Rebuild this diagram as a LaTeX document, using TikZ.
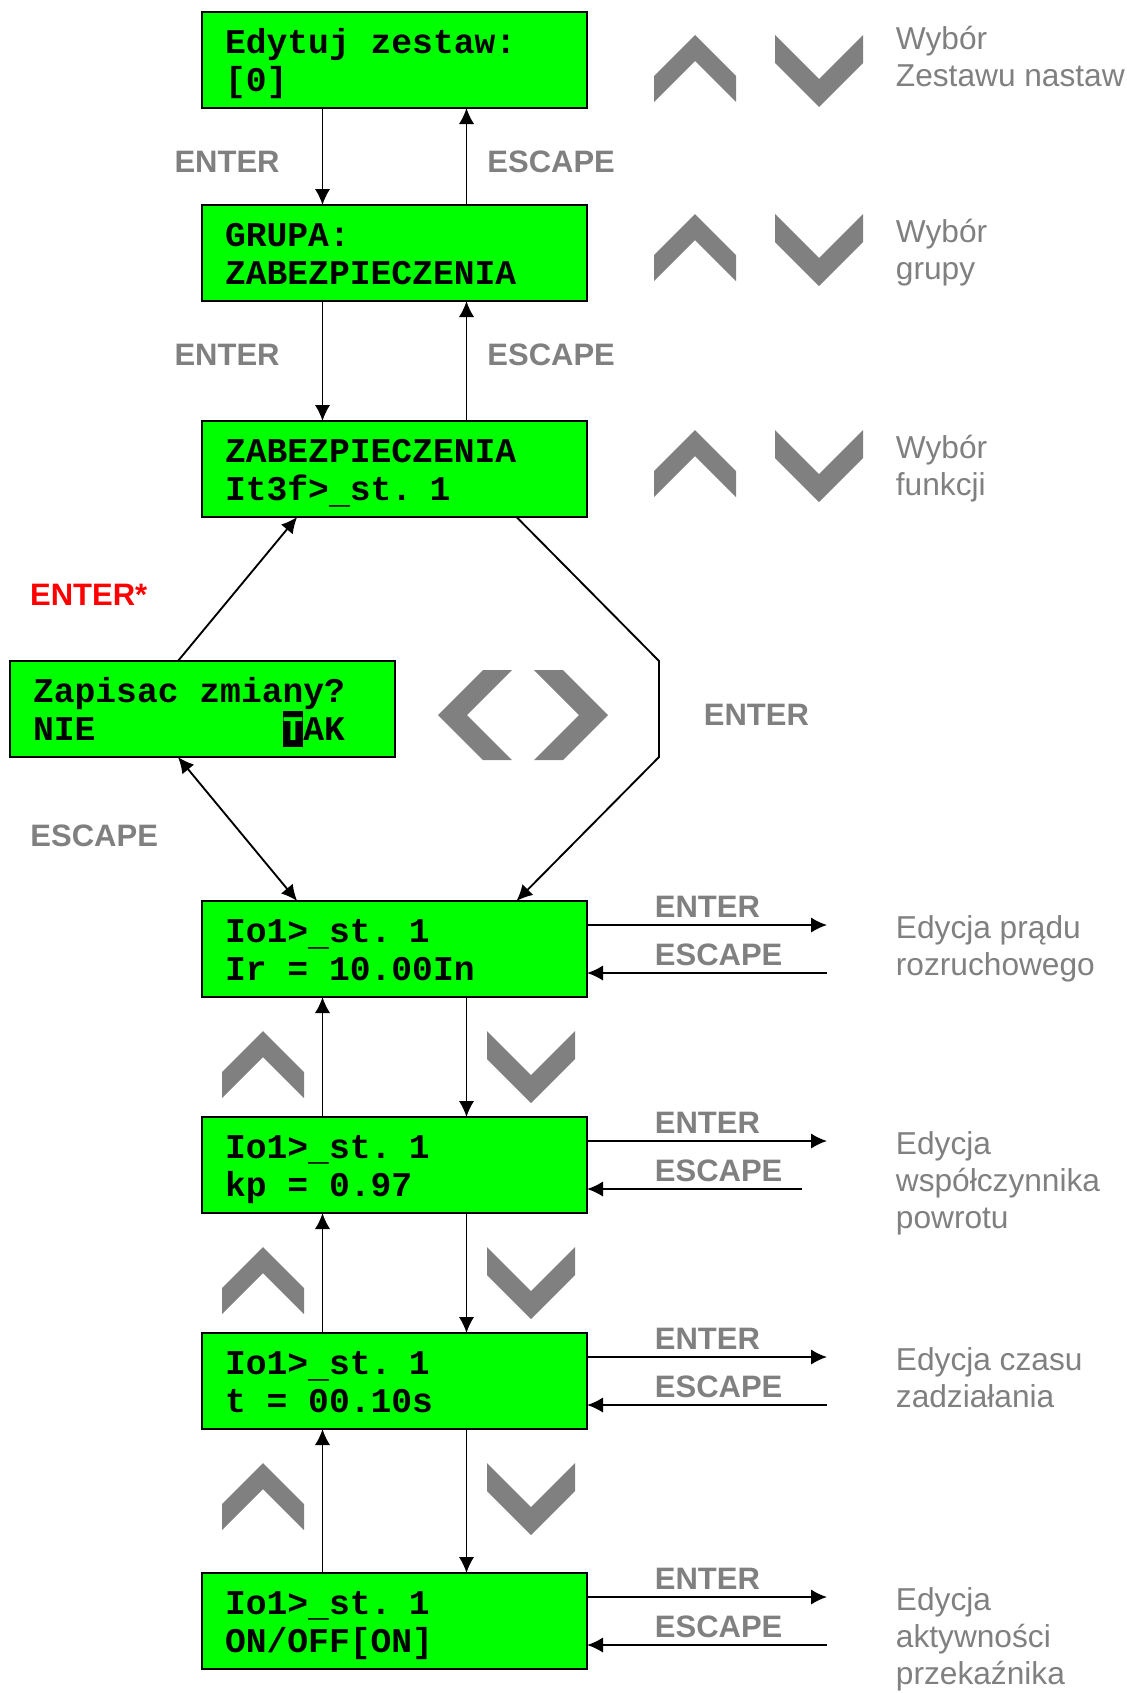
\documentclass[tikz,border=0pt]{standalone}
\usepackage{fontspec}
\setmainfont{Liberation Sans}
\newfontfamily\lcdfont{Liberation Mono}
\usetikzlibrary{arrows.meta,positioning,calc}

\definecolor{lcd}{RGB}{0,255,0}
\definecolor{hint}{RGB}{128,128,128}

\newcommand{\lcdstrut}{\rule[-5pt]{0pt}{28.5pt}}
\newcommand{\lcd}[2]{\spaceskip=0.6em\relax\lcdstrut#1\\\lcdstrut#2}
\newcommand{\lcdcur}[1]{\makebox[0pt][l]{\rule[-0.2em]{0.6em}{1.04em}}\textcolor{lcd}{#1}}
\newcommand{\lcdus}{\raisebox{-0.08em}{\_}}

\tikzset{
  lcdbox/.style={draw,line width=1.6pt,fill=lcd,anchor=north west,outer sep=0pt,
    minimum width=288.75pt,minimum height=72pt,text width=254.25pt,
    inner xsep=17.25pt,inner ysep=0pt,align=left,
    font={\lcdfont\bfseries\fontsize{26}{28.5}\selectfont\lineskiplimit=-20pt}},
  key/.style={font=\bfseries\fontsize{23.25}{28}\selectfont,text=hint,inner sep=0pt},
  hinttext/.style={font=\fontsize{23.75}{27.75}\selectfont,text=hint,inner sep=0pt,
    align=left,anchor=north west,yshift=20pt,execute at begin node={\rule{0pt}{20pt}}},
  chevup/.pic={\fill[hint] (0,-33) -- (41,8) -- (41,34) -- (0,-7) -- (-41,34) -- (-41,8) -- cycle;},
  chevdown/.pic={\fill[hint] (0,36) -- (44,-8) -- (44,-36) -- (0,8) -- (-44,-36) -- (-44,-8) -- cycle;},
  chevleft/.pic={\fill[hint] (-37,0) -- (8,-45) -- (37,-45) -- (-8,0) -- (37,45) -- (8,45) -- cycle;},
  chevright/.pic={\fill[hint] (37,0) -- (-8,-45) -- (-37,-45) -- (8,0) -- (-37,45) -- (-8,45) -- cycle;}
}

\begin{document}
\begin{tikzpicture}[x=0.75pt,y=-0.75pt,>={Latex[length=12pt,width=11.5pt]},line width=1.4pt]
\useasboundingbox (0,0) rectangle (1127,1693);

% screens
\node[lcdbox] (edit) at (202,12) {\lcd{Edytuj zestaw:}{[0]}};
\node[lcdbox] (grp) at (202,205) {\lcd{GRUPA:}{ZABEZPIECZENIA}};
\node[lcdbox] (func) at (202,421) {\lcd{ZABEZPIECZENIA}{It3f>\lcdus st. 1}};
\node[lcdbox] (save) at (10,661) {\lcd{Zapisac zmiany?}{NIE~~~~~~~~~\lcdcur{T}AK}};
\node[lcdbox] (ioa) at (202,901) {\lcd{Io1>\lcdus st. 1}{Ir = 10.00In}};
\node[lcdbox] (iob) at (202,1117) {\lcd{Io1>\lcdus st. 1}{kp = 0.97}};
\node[lcdbox] (ioc) at (202,1333) {\lcd{Io1>\lcdus st. 1}{t = 00.10s}};
\node[lcdbox] (iod) at (202,1573) {\lcd{Io1>\lcdus st. 1}{ON/OFF[ON]}};

% keys
\foreach \y in {68,247,463} \pic at (695,\y) {chevup};
\foreach \y in {71,250,466} \pic at (819,\y) {chevdown};
\foreach \y in {1064,1280,1496}{
  \pic at (263,\y) {chevup};
  \pic at (531,\y+3) {chevdown};
}
\pic at (475,715) {chevleft};
\pic at (571,715) {chevright};

\draw[->] ([xshift=-54pt]edit.south) -- ([xshift=-54pt]grp.north) node[key,pos=.56,left=31.5pt] (k1) {ENTER};
\draw[<-] ([xshift=54pt]edit.south) -- ([xshift=54pt]grp.north) node[key,pos=.56,right=15pt] (k2) {ESCAPE};
\draw[->] ([xshift=-54pt]grp.south) -- ([xshift=-54pt]func.north) node[key,pos=.45,left=31.5pt] (k3) {ENTER};
\draw[<-] ([xshift=54pt]grp.south) -- ([xshift=54pt]func.north) node[key,pos=.45,right=15pt] (k4) {ESCAPE};

\draw[->] ([xshift=-18.4pt]save.north) -- ([xshift=-73pt]func.south) node[key,midway,left=67pt,yshift=-4pt,text=red] (k5) {ENTER*};
\draw[<->] ([xshift=-18.4pt]save.south) -- ([xshift=-73pt]ioa.north) node[key,midway,left=59pt,yshift=-5pt] (k6) {ESCAPE};

\coordinate (bend1) at (659,661);
\coordinate (bend2) at (659,757);
\draw[->] ([xshift=91.5pt]func.south) -- (bend1) -- (bend2) node[key,midway,right=33pt,yshift=-4pt] (k7) {ENTER} -- ([xshift=91.5pt]ioa.north);

\foreach \a/\b in {ioa/iob,iob/ioc,ioc/iod}{
  \draw[->] ([xshift=54pt]\a.south) -- ([xshift=54pt]\b.north);
  \draw[<-] ([xshift=-54pt]\a.south) -- ([xshift=-54pt]\b.north);
}

\foreach \b/\l in {ioa/240,iob/215,ioc/240,iod/240}{
  \draw[->] ([yshift=18pt]\b.east) -- ++(240,0);
  \draw[<-] ([yshift=-18pt]\b.east) -- ++(\l,0);
  \node[key,anchor=base west] (ent-\b) at ($(\b.east)+(67,-32)$) {ENTER};
  \node[key,anchor=base west] (esc-\b) at ($(\b.east)+(67,16)$) {ESCAPE};
}

% descriptions
\foreach \b/\t in {edit/{Wybór\\Zestawu nastaw},grp/{Wybór\\grupy},func/{Wybór\\funkcji},
    ioa/{Edycja prądu\\rozruchowego},iob/{Edycja\\współczynnika\\powrotu},
    ioc/{Edycja czasu\\zadziałania},iod/{Edycja\\aktywności\\przekaźnika}}
  \node[hinttext] (txt-\b) at ($(\b.east)+(308,-8)$) {\t};

\end{tikzpicture}
\end{document}
